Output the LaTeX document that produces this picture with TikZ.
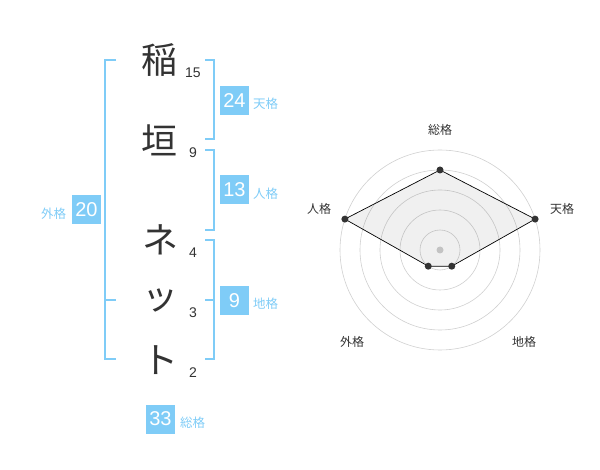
\documentclass[tikz,border=0pt]{standalone}
\usepackage{fontspec}
\setmainfont{Liberation Sans}
\newfontfamily\jp{Noto Sans CJK JP}
\definecolor{boxblue}{HTML}{7FCCF7}
\definecolor{chardark}{HTML}{333333}
\definecolor{ringgray}{HTML}{D0D0D0}
\begin{document}
\begin{tikzpicture}[x=1pt,y=-1pt,
  bigchar/.style={font=\jp\fontsize{36}{36}\selectfont, text=chardark, inner sep=0pt},
  strokes/.style={font=\fontsize{14}{14}\selectfont, text=chardark, inner sep=0pt},
  valbox/.style={fill=boxblue, text=white, minimum size=29pt, inner sep=0pt, font=\fontsize{20}{20}\selectfont},
  kaku/.style={font=\jp\fontsize{12.5}{12.5}\selectfont, text=boxblue, inner sep=0pt, anchor=west},
  bracket/.style={draw=boxblue, line width=2pt},
  ring/.style={draw=ringgray, line width=0.6pt},
  radarlabel/.style={font=\jp\fontsize{12}{12}\selectfont, text=chardark, inner sep=0pt},
  vdot/.style={circle, fill=chardark, minimum size=7pt, inner sep=0pt},
  poly/.style={draw=black, line width=0.7pt, fill=black, fill opacity=0.06}
]
\useasboundingbox (0,0) rectangle (600,470);

% characters
\node[bigchar] (c1) at (159,60) {稲};
\node[bigchar] (c2) at (159,140) {垣};
\node[bigchar] (c3) at (160,240) {ネ};
\node[bigchar] (c4) at (160,300) {ッ};
\node[bigchar] (c5) at (160,360) {ト};

% stroke counts
\node[strokes] (n1) at (193,73) {15};
\node[strokes] (n2) at (193,153) {9};
\node[strokes] (n3) at (193,253) {4};
\node[strokes] (n4) at (193,313) {3};
\node[strokes] (n5) at (193,373) {2};

% brackets
\draw[bracket] (116,60) -- (105,60) -- (105,359) -- (116,359);
\draw[bracket] (105,300) -- (116,300);
\draw[bracket] (205,60) -- (214,60) -- (214,139) -- (205,139);
\draw[bracket] (205,150) -- (214,150) -- (214,230) -- (205,230);
\draw[bracket] (205,240) -- (214,240) -- (214,359) -- (205,359);
\draw[bracket] (205,300) -- (214,300);

% value boxes
\node[valbox] (ten) at (234.5,100.5) {24};
\node[kaku] (tenl) at (253,103.5) {天格};
\node[valbox] (jin) at (234.5,190) {13};
\node[kaku] (jinl) at (253,193.5) {人格};
\node[valbox] (gai) at (86.5,210) {20};
\node[kaku] (gail) at (41,213.5) {外格};
\node[valbox] (chi) at (234.5,300.5) {9};
\node[kaku] (chil) at (253,303.5) {地格};
\node[valbox] (sou) at (160.5,419) {33};
\node[kaku] (soul) at (180,422.5) {総格};

% radar chart
\begin{scope}[shift={(440,250)}, yscale=-1]
  \foreach \r in {20,40,60,80,100} \draw[ring] (0,0) circle (\r);
  \fill[ringgray] (0,0) circle (3.5);
  \coordinate (ps) at (90:80);
  \coordinate (pt) at (18:100);
  \coordinate (pc) at (-54:20);
  \coordinate (pg) at (-126:20);
  \coordinate (pj) at (162:100);
  \draw[poly] (ps) -- (pt) -- (pc) -- (pg) -- (pj) -- cycle;
  \foreach \p in {ps,pt,pc,pg,pj} \node[vdot] at (\p) {};
\end{scope}
\node[radarlabel] (rs) at (440,130) {総格};
\node[radarlabel] (rt) at (562,209) {天格};
\node[radarlabel] (rj) at (319,209) {人格};
\node[radarlabel] (rg) at (352,342) {外格};
\node[radarlabel] (rc) at (524,342) {地格};
\end{tikzpicture}
\end{document}
